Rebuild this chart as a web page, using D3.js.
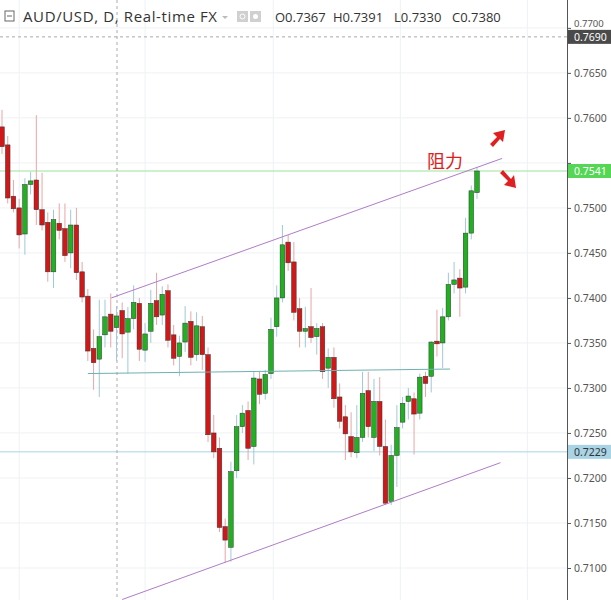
<!DOCTYPE html>
<html><head><meta charset="utf-8">
<script src="https://cdn.jsdelivr.net/npm/d3@7"></script>
<style>body{margin:0;background:#fff}svg{display:block}</style>
</head><body><svg id="c" width="611" height="600"></svg>
<script>
const opens  = [0.7590,0.7570,0.7513,0.7500,0.7471,0.7526,0.7531,0.7498,0.7484,0.7429,0.7483,0.7477,0.7450,0.7481,0.7429,0.7402,0.7344,0.7332,0.7359,0.7382,0.7367,0.7386,0.7362,0.7377,0.7394,0.7342,0.7363,0.7397,0.7381,0.7408,0.7359,0.7335,0.7351,0.7374,0.7337,0.7368,0.7337,0.7250,0.7233,0.7146,0.7123,0.7208,0.7257,0.7275,0.7235,0.7310,0.7294,0.7316,0.7368,0.7400,0.7462,0.7440,0.7388,0.7363,0.7368,0.7357,0.7368,0.7322,0.7334,0.7290,0.7268,0.7246,0.7228,0.7245,0.7297,0.7245,0.7285,0.7235,0.7174,0.7225,0.7262,0.7285,0.7288,0.7272,0.7313,0.7313,0.7352,0.7350,0.7379,0.7415,0.7422,0.7412,0.7472,0.7517];
const highs  = [0.7609,0.7580,0.7531,0.7510,0.7533,0.7540,0.7603,0.7539,0.7495,0.7498,0.7505,0.7505,0.7498,0.7500,0.7440,0.7410,0.7365,0.7398,0.7398,0.7405,0.7391,0.7395,0.7390,0.7414,0.7400,0.7372,0.7409,0.7428,0.7413,0.7415,0.7370,0.7358,0.7391,0.7385,0.7384,0.7380,0.7345,0.7270,0.7245,0.7155,0.7218,0.7270,0.7281,0.7285,0.7318,0.7318,0.7320,0.7378,0.7414,0.7481,0.7470,0.7462,0.7400,0.7390,0.7411,0.7372,0.7372,0.7344,0.7345,0.7305,0.7281,0.7273,0.7281,0.7318,0.7318,0.7310,0.7312,0.7265,0.7237,0.7281,0.7290,0.7300,0.7295,0.7316,0.7318,0.7352,0.7387,0.7389,0.7428,0.7440,0.7432,0.7489,0.7525,0.7545];
const lows   = [0.7560,0.7505,0.7495,0.7455,0.7448,0.7515,0.7481,0.7475,0.7418,0.7411,0.7465,0.7440,0.7433,0.7420,0.7395,0.7330,0.7298,0.7290,0.7345,0.7345,0.7330,0.7333,0.7316,0.7365,0.7330,0.7329,0.7350,0.7370,0.7370,0.7345,0.7325,0.7313,0.7340,0.7325,0.7330,0.7320,0.7240,0.7222,0.7140,0.7106,0.7107,0.7200,0.7250,0.7220,0.7215,0.7282,0.7287,0.7310,0.7357,0.7395,0.7430,0.7375,0.7345,0.7345,0.7350,0.7337,0.7310,0.7300,0.7278,0.7255,0.7220,0.7223,0.7222,0.7240,0.7245,0.7230,0.7225,0.7170,0.7170,0.7190,0.7255,0.7265,0.7226,0.7265,0.7290,0.7295,0.7335,0.7322,0.7375,0.7405,0.7379,0.7405,0.7465,0.7510];
const closes = [0.7568,0.7511,0.7499,0.7470,0.7526,0.7530,0.7498,0.7481,0.7429,0.7487,0.7475,0.7447,0.7481,0.7428,0.7401,0.7341,0.7328,0.7357,0.7379,0.7363,0.7380,0.7360,0.7377,0.7395,0.7343,0.7360,0.7394,0.7379,0.7404,0.7353,0.7333,0.7350,0.7372,0.7334,0.7369,0.7337,0.7248,0.7229,0.7145,0.7131,0.7207,0.7257,0.7272,0.7233,0.7311,0.7293,0.7315,0.7365,0.7400,0.7459,0.7439,0.7384,0.7363,0.7366,0.7356,0.7366,0.7318,0.7334,0.7288,0.7263,0.7249,0.7229,0.7245,0.7294,0.7257,0.7285,0.7235,0.7172,0.7225,0.7256,0.7283,0.7291,0.7271,0.7312,0.7305,0.7351,0.7349,0.7379,0.7415,0.7420,0.7411,0.7472,0.7519,0.7541];
const priceTicks = [0.7100,0.7150,0.7200,0.7250,0.7300,0.7350,0.7400,0.7450,0.7500,0.7550,0.7600,0.7650,0.7700];
const upperChannel = [[19.1,0.7400],[87.4,0.7555]];
const lowerChannel = [[21.0,0.7065],[87.1,0.7217]];
const neckline = [[15.0,0.7316],[78.3,0.7321]];
const resistance = 0.7541, support = 0.7229, crosshairPrice = 0.7690, crosshairIndex = 20.1;
const gridIdx = [3,25,47.4,69.6,91.8];

const svg = d3.select("#c");
const y = d3.scaleLinear().domain([0.7100,0.7541]).range([568,171]);
const x = d3.scaleLinear().domain([0,83]).range([2,477]);
const W = 567;
const up="#1fb11f", dn="#d11818";

svg.append("g").selectAll("line").data(priceTicks).join("line")
  .attr("x1",0).attr("x2",W).attr("y1",d=>y(d)).attr("y2",d=>y(d)).attr("stroke","#eef1f4");
svg.append("g").selectAll("line").data(gridIdx).join("line")
  .attr("x1",d=>x(d)).attr("x2",d=>x(d)).attr("y1",0).attr("y2",600).attr("stroke","#eef1f4");

svg.append("line").attr("x1",0).attr("x2",W).attr("y1",y(resistance)).attr("y2",y(resistance)).attr("stroke","#9be39b");
svg.append("line").attr("x1",0).attr("x2",W).attr("y1",y(support)).attr("y2",y(support)).attr("stroke","#a8d4e6");
svg.append("line").attr("x1",0).attr("x2",611).attr("y1",y(crosshairPrice)).attr("y2",y(crosshairPrice)).attr("stroke","#aaa").attr("stroke-dasharray","3,3");
svg.append("line").attr("x1",x(crosshairIndex)).attr("x2",x(crosshairIndex)).attr("y1",0).attr("y2",600).attr("stroke","#aaa").attr("stroke-dasharray","3,3");

const idx = d3.range(opens.length);
const g = svg.append("g");
g.selectAll("line.w").data(idx).join("line")
  .attr("x1",i=>x(i)).attr("x2",i=>x(i)).attr("y1",i=>y(highs[i])).attr("y2",i=>y(lows[i]))
  .attr("stroke",i=>closes[i]>=opens[i]?"#9fc9d8":"#e8a6a6").attr("stroke-width",1);
g.selectAll("rect").data(idx).join("rect")
  .attr("x",i=>x(i)-2.3).attr("width",4.6)
  .attr("y",i=>y(Math.max(opens[i],closes[i])))
  .attr("height",i=>Math.max(1.5,Math.abs(y(opens[i])-y(closes[i]))))
  .attr("fill",i=>closes[i]>=opens[i]?up:dn).attr("stroke","#333").attr("stroke-width",0.5);

const ln = d3.line().x(d=>x(d[0])).y(d=>y(d[1]));
svg.append("path").attr("d",ln(upperChannel)).attr("stroke","#b07cc6").attr("fill","none");
svg.append("path").attr("d",ln(lowerChannel)).attr("stroke","#b07cc6").attr("fill","none");
svg.append("path").attr("d",ln(neckline)).attr("stroke","#6fb0b0").attr("fill","none");

svg.append("rect").attr("x",W+1).attr("y",0).attr("width",611-W).attr("height",600).attr("fill","#fff");
svg.append("line").attr("x1",W+0.5).attr("x2",W+0.5).attr("y1",0).attr("y2",600).attr("stroke","#555");
const badges=[crosshairPrice,resistance,support];
const ax = svg.append("g").attr("transform",`translate(${W},0)`).call(d3.axisRight(y).tickValues(priceTicks).tickFormat(d3.format(".4f")).tickSize(4));
ax.select(".domain").remove();
ax.selectAll("line").attr("stroke","#555");
ax.selectAll("text").attr("fill","#555").attr("font-size",10.5).attr("font-family","'Noto Sans',sans-serif");
ax.selectAll(".tick").filter(d=>badges.some(b=>Math.abs(y(b)-y(d))<13)).select("text").remove();
svg.append("text").attr("x",W+7).attr("y",y(0.7700)-1).attr("font-size",9.5).attr("fill","#555").attr("font-family","'Noto Sans',sans-serif").text("0.7700");
function badge(p,bg,fg){
  const yy=y(p);
  svg.append("rect").attr("x",W+1).attr("y",yy-7).attr("width",611-W-1).attr("height",14).attr("fill",bg);
  svg.append("text").attr("x",W+7).attr("y",yy+4).text(p.toFixed(4)).attr("fill",fg).attr("font-size",10.5).attr("font-family","'Noto Sans',sans-serif");
}
badge(crosshairPrice,"#4a4a4a","#fff");
badge(resistance,"#55d655","#fff");
badge(support,"#a8d4e6","#333");

const hdr = svg.append("g").attr("font-family","'Open Sans','Noto Sans',sans-serif");
hdr.append("rect").attr("x",5).attr("y",11).attr("width",9).attr("height",10).attr("fill","none").attr("stroke","#666");
hdr.append("line").attr("x1",7).attr("x2",12).attr("y1",16).attr("y2",16).attr("stroke","#666");
hdr.append("text").attr("x",23).attr("y",22).attr("font-size",15).attr("fill","#333").attr("textLength",194).text("AUD/USD, D, Real-time FX");
hdr.append("path").attr("d","M222,16 l6,0 l-3,3 z").attr("fill","#bbb");
hdr.append("rect").attr("x",237).attr("y",11).attr("width",11).attr("height",11).attr("fill","#d0d0d0");
hdr.append("rect").attr("x",250).attr("y",11).attr("width",11).attr("height",11).attr("fill","#d0d0d0");
hdr.append("circle").attr("cx",242.5).attr("cy",16.5).attr("r",2.5).attr("fill","none").attr("stroke","#fff");
hdr.append("circle").attr("cx",255.5).attr("cy",16.5).attr("r",2.5).attr("fill","#fff");
const ohlc=[["O",0.7367],["H",0.7391],["L",0.7330],["C",0.7380]];
const ox=[275,333,394,452];
ohlc.forEach((d,i)=>hdr.append("text").attr("x",ox[i]).attr("y",22).attr("font-size",13).attr("fill","#333").text(d[0]+d[1].toFixed(4)));

svg.append("text").attr("x",427).attr("y",168).attr("font-size",18).attr("fill","#e02020").attr("font-family","'Noto Sans CJK SC',sans-serif").text("阻力");
svg.append("path").attr("d","M490,144 L497,137 L493,133 L505,130 L503,142 L500,139 L493,147 Z").attr("fill","#e02020");
svg.append("path").attr("d","M500,173 L508,181 L504,185 L516,188 L514,175 L511,179 L503,170 Z").attr("fill","#e02020");
</script></body></html>
